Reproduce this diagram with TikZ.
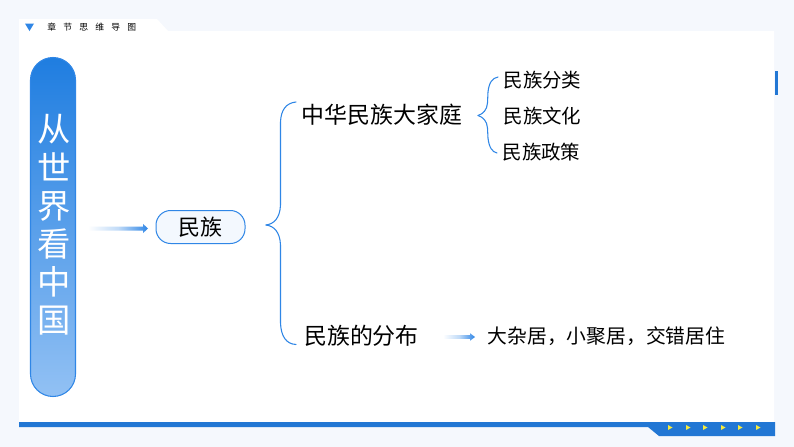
\documentclass[tikz,border=0pt]{standalone}
\usepackage{fontspec}
\setmainfont{Noto Sans CJK SC}
\definecolor{bgc}{HTML}{F5F8FD}
\definecolor{barc}{HTML}{2277D4}
\definecolor{linec}{HTML}{2F86E6}
\definecolor{pilltop}{HTML}{1F7DE0}
\definecolor{pillbot}{HTML}{92C1F4}
\definecolor{nodefill}{HTML}{F3F8FE}
\definecolor{tri}{HTML}{F8EC3C}
\newcommand{\fs}[1]{\fontsize{#1}{#1}\selectfont}
\tikzset{
  x=0.75pt,y=-0.75pt,
  bracelink/.style={draw=linec,line width=0.8pt,line cap=round},
  lbl/.style={inner sep=0pt,text=black,anchor=center},
  big/.style={lbl,font=\fs{17.2}},
  small/.style={lbl,font=\fs{14.6}},
  yel/.style={fill=tri,draw=none},
}
\newcommand{\gradarrow}[5]{% x0,x1,y,head half height,shaft half height
  \shade[left color=white,right color=linec,middle color=linec!30]
   (#1,#3-#5) -- (#2-5,#3-#5) -- (#2-5,#3-#4) -- (#2,#3) -- (#2-5,#3+#4) -- (#2-5,#3+#5) -- (#1,#3+#5) -- cycle;}
\begin{document}
\begin{tikzpicture}
\useasboundingbox (0,0) rectangle (794,447);
\fill[bgc] (0,0) rectangle (794,447);
% panel
\fill[white] (19,19) -- (157,19) -- (168,31) -- (774,31) -- (774,423) -- (19,423) -- cycle;
% header
\fill[linec] (25,23.5) -- (34,23.5) -- (29.5,31) -- cycle;
\node[lbl,font=\fs{6.6},anchor=west] (title) at (47,27.5) {章\kern5.4pt 节\kern5.4pt 思\kern5.4pt 维\kern5.4pt 导\kern5.4pt 图};
% bottom bar
\fill[barc] (19,422) -- (775,422) -- (775,436) -- (659,436) -- (648,427) -- (19,427) -- cycle;
\foreach \px in {668,686,703,721,738,756}
  \fill[yel] (\px,425) -- (\px+4.5,427.5) -- (\px,430) -- cycle;
% side mark
\fill[barc] (775,71) rectangle (778,95);
% pill
\node[draw=linec,line width=0.8pt,rounded corners=22.5*0.75pt,minimum width=45*0.75pt,minimum height=339*0.75pt,
  inner sep=0pt,top color=pilltop,bottom color=pillbot] (pill) at (53,227) {};
\node[inner sep=0pt,align=center,text=white,font=\fontsize{25}{28.6}\selectfont] (ptext) at (54.5,225) {从\\世\\界\\看\\中\\国};
% central
\node[draw=linec,line width=0.75pt,fill=nodefill,rounded corners=11pt,minimum width=89*0.75pt,minimum height=33*0.75pt,inner sep=0pt,font=\fs{16.5}] (root) at (200.5,227) {民族};
\gradarrow{88}{148}{228.5}{4.6}{2}
% braces
\coordinate (t1) at (266,225);
\coordinate (b1t) at (296,102);
\coordinate (b1b) at (296,344.5);
\draw[bracelink] (t1) .. controls (274,224) and (280,218) .. (280.5,205) -- (280.5,122) .. controls (281,110) and (286,103) .. (b1t);
\draw[bracelink] (t1) .. controls (274,226) and (280,232) .. (280.5,245) -- (280.5,323) .. controls (281,336) and (286,344) .. (b1b);
\node[big] (family) at (382,115) {中华民族大家庭};
\node[big] (dist) at (361.5,336) {民族的分布};
\coordinate (t2) at (478,115.5);
\coordinate (b2t) at (498,77);
\coordinate (b2b) at (497,153);
\draw[bracelink] (t2) .. controls (483,114) and (487,110) .. (487.5,103) -- (488,92) .. controls (489,83) and (492,78) .. (b2t);
\draw[bracelink] (t2) .. controls (483,117) and (487,121) .. (487.5,128) -- (488,138) .. controls (489,147) and (492,152) .. (b2b);
\node[small] (c1) at (542.5,80) {民族分类};
\node[small] (c2) at (542.5,116) {民族文化};
\node[small] (c3) at (541.5,152) {民族政策};
\gradarrow{443}{475}{337}{3.8}{1.8}
\node[small,font=\fs{14.85}] (c4) at (606.5,336) {大杂居，小聚居，交错居住};
\end{tikzpicture}
\end{document}
